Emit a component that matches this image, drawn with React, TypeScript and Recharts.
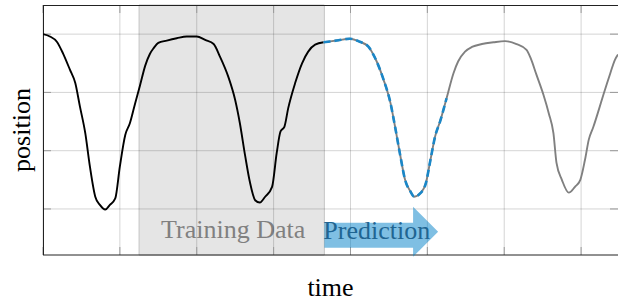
import { LineChart, Line, XAxis, YAxis, ReferenceArea } from 'recharts';

// x in grid units of time, y in grid units of position
const time = [
  0, 0.09, 0.18, 0.26, 0.35, 0.42, 0.48, 0.55, 0.61, 0.68,
  0.74, 0.81, 0.87, 0.94, 1.0, 1.07, 1.13, 1.2, 1.26, 1.33,
  1.39, 1.44, 1.5, 1.61, 1.74, 1.87, 2.0, 2.11, 2.22, 2.3,
  2.41, 2.5, 2.56, 2.63, 2.69, 2.76, 2.82, 2.89, 2.98, 3.04,
  3.09, 3.14, 3.19, 3.28, 3.37, 3.45, 3.54, 3.65, 3.82, 3.99,
  4.12, 4.23, 4.32, 4.43, 4.52, 4.58, 4.65, 4.71, 4.78, 4.83,
  4.91, 4.98, 5.04, 5.1, 5.17, 5.25, 5.34, 5.4, 5.49, 5.58,
  5.71, 5.86, 6.01, 6.16, 6.29, 6.34, 6.42, 6.51, 6.58, 6.64,
  6.68, 6.75, 6.84, 6.92, 6.99, 7.05, 7.1, 7.16, 7.23, 7.29,
  7.38, 7.44, 7.48,
];
const position = [
  4.0, 3.96, 3.87, 3.67, 3.39, 3.16, 2.76, 2.3, 1.73, 1.21,
  1.07, 0.99, 1.07, 1.18, 1.73, 2.27, 2.47, 2.82, 3.11, 3.46,
  3.66, 3.76, 3.85, 3.89, 3.93, 3.96, 3.96, 3.9, 3.83, 3.62,
  3.27, 2.87, 2.48, 1.91, 1.47, 1.15, 1.11, 1.21, 1.38, 1.96,
  2.33, 2.41, 2.73, 3.16, 3.5, 3.7, 3.82, 3.86, 3.89, 3.92,
  3.87, 3.79, 3.59, 3.22, 2.82, 2.41, 1.9, 1.5, 1.3, 1.21,
  1.27, 1.44, 1.84, 2.24, 2.52, 2.9, 3.33, 3.53, 3.7, 3.78,
  3.83, 3.86, 3.88, 3.83, 3.73, 3.6, 3.3, 2.96, 2.64, 2.3,
  1.79, 1.5, 1.28, 1.38, 1.5, 1.84, 2.19, 2.41, 2.7, 2.96,
  3.33, 3.56, 3.65,
];
const timeTicks = [0, 1, 2, 3, 4, 5, 6, 7];
const positionTicks = [1, 2, 3, 4];
const timeDomain = [0, 7.48];
const positionDomain = [0.21, 4.5];
const trainingWindow = [1.25, 3.66];
const predictionStart = 3.65;
const predictionEnd = 5.25;
const arrowSpan = { x1: 3.66, x2: 5.14, y1: 0.18, y2: 1.04 };

const points = time.map((t, i) => ({ t, y: position[i] }));
const observed = points.filter((p) => p.t <= predictionStart);
const future = points.filter((p) => p.t >= predictionStart);
const predicted = future.filter((p) => p.t <= predictionEnd);

const FONT = '"Liberation Serif", "DejaVu Serif", serif';

function TrainingLabel(props: any) {
  const { x, y, width, height } = props.viewBox;
  return (
    <text x={x + width / 2 + 1.5} y={y + height - 17} textAnchor="middle" fontFamily={FONT} fontSize={26} fill="#808080">
      Training Data
    </text>
  );
}

function PredictionArrow(props: any) {
  const { x, y, width, height } = props;
  const top = y + height * 0.32;
  const bottom = y + height * 0.82;
  const neck = x + width * 0.78;
  const pts = [
    [x, top], [neck, top], [neck, y], [x + width, y + height / 2],
    [neck, y + height], [neck, bottom], [x, bottom],
  ].map((p) => p.join(',')).join(' ');
  return (
    <g>
      <polygon points={pts} fill="#0080c8" fillOpacity={0.5} />
      <text x={x - 1} y={y + height * 0.646} fontFamily={FONT} fontSize={26} fill="#1f6592">
        Prediction
      </text>
    </g>
  );
}

// frame: grid, left/bottom/top lines plus inward tick marks, drawn from the plot box
function Frame(props: any) {
  const { x, y, width, height } = props;
  const xs = timeTicks.map((t) => x + ((t - timeDomain[0]) / (timeDomain[1] - timeDomain[0])) * width);
  const ys = positionTicks.map((v) => y + height - ((v - positionDomain[0]) / (positionDomain[1] - positionDomain[0])) * height);
  const tick = 8;
  return (
    <g>
      {xs.map((px, i) => (
        <g key={'v' + i}>
          <line x1={px} x2={px} y1={y} y2={y + height} stroke="rgba(0,0,0,0.17)" />
          <line x1={px} x2={px} y1={y} y2={y + tick} stroke="#999" />
          <line x1={px} x2={px} y1={y + height} y2={y + height - tick} stroke="#999" />
        </g>
      ))}
      {ys.map((py, i) => (
        <g key={'h' + i}>
          <line x1={x} x2={x + width} y1={py} y2={py} stroke="rgba(0,0,0,0.17)" />
          <line x1={x} x2={x + tick} y1={py} y2={py} stroke="#999" />
          <line x1={x + width} x2={x + width - tick} y1={py} y2={py} stroke="#999" />
        </g>
      ))}
      <line x1={x} x2={x + width} y1={y + 0.5} y2={y + 0.5} stroke="#222" />
      <line x1={x} x2={x + width} y1={y + height} y2={y + height} stroke="#222" />
      <line x1={x + 0.5} x2={x + 0.5} y1={y} y2={y + height} stroke="#222" />
      <text x={x + width / 2} y={y + height + 41} textAnchor="middle" fontFamily={FONT} fontSize={26} fill="#000">
        time
      </text>
      <text x={30} y={y + height / 2} transform={`rotate(-90 30 ${y + height / 2})`} textAnchor="middle" fontFamily={FONT} fontSize={26} fill="#000">
        position
      </text>
    </g>
  );
}

export default function App() {
  return (
    <div style={{ width: 618, height: 302 }}>
      <style>{'body{margin:0}'}</style>
      <LineChart width={618} height={302} margin={{ top: 5, right: 0, left: 43, bottom: 47 }}>
        <XAxis dataKey="t" type="number" domain={timeDomain} ticks={timeTicks} allowDataOverflow hide />
        <YAxis type="number" domain={positionDomain} ticks={positionTicks} allowDataOverflow hide />
        <ReferenceArea
          x1={trainingWindow[0]}
          x2={trainingWindow[1]}
          y1={positionDomain[0]}
          y2={positionDomain[1]}
          fill="#e5e5e5"
          fillOpacity={1}
          stroke="#c4c4c4"
          strokeWidth={1}
          label={<TrainingLabel />}
        />
        <ReferenceArea
          x1={timeDomain[0]}
          x2={timeDomain[1]}
          y1={positionDomain[0]}
          y2={positionDomain[1]}
          fillOpacity={0}
          shape={<Frame />}
        />
        <Line data={observed} dataKey="y" stroke="#000" strokeWidth={1.9} dot={false} type="monotone" isAnimationActive={false} />
        <Line data={future} dataKey="y" stroke="#808080" strokeWidth={1.9} dot={false} type="monotone" isAnimationActive={false} />
        <Line data={predicted} dataKey="y" stroke="#1a87c8" strokeWidth={2.6} strokeDasharray="7 4" dot={false} type="monotone" isAnimationActive={false} />
        <ReferenceArea
          x1={arrowSpan.x1}
          x2={arrowSpan.x2}
          y1={arrowSpan.y1}
          y2={arrowSpan.y2}
          ifOverflow="visible"
          shape={<PredictionArrow />}
        />
      </LineChart>
    </div>
  );
}
